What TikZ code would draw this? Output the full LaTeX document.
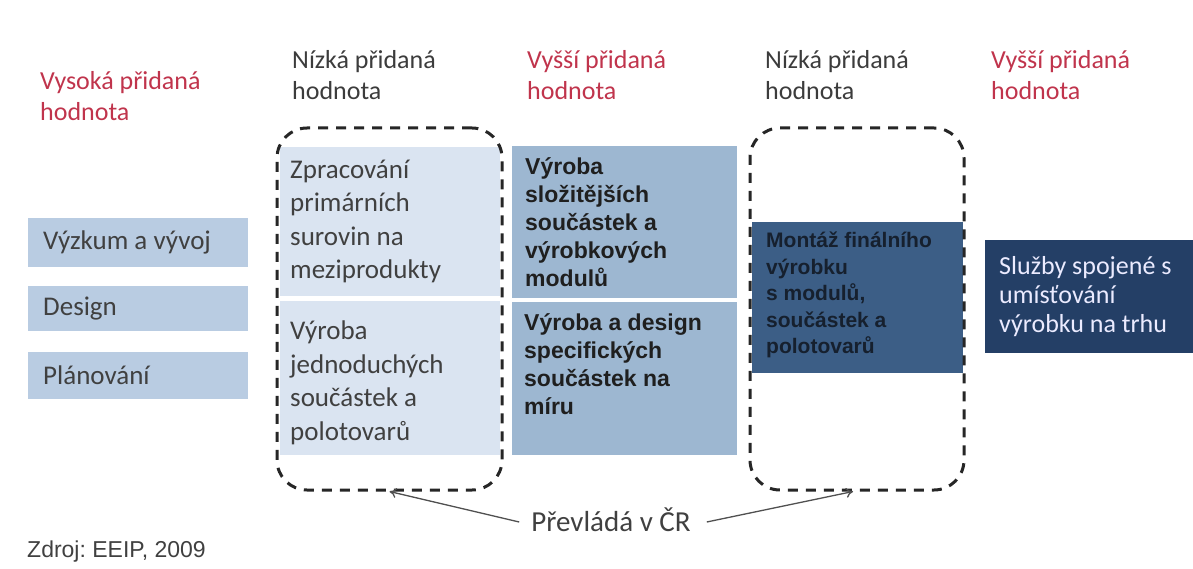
\documentclass[tikz,border=0pt]{standalone}
\usepackage{fontspec}
\newfontfamily\calfont{Carlito}
\newfontfamily\arifont{Liberation Sans}
\usetikzlibrary{arrows.meta}
\frenchspacing
\definecolor{hdrred}{RGB}{192,52,76}
\definecolor{hdrgray}{RGB}{60,60,60}
\definecolor{leftblue}{RGB}{185,204,226}
\definecolor{lightblue}{RGB}{218,228,241}
\definecolor{midblue}{RGB}{157,183,209}
\definecolor{darkblue}{RGB}{60,94,134}
\definecolor{navy}{RGB}{36,63,102}
\definecolor{txtgray}{RGB}{64,64,64}
\definecolor{arrgray}{RGB}{80,80,80}
\definecolor{montxt}{RGB}{22,32,46}
\tikzset{
  hdr/.style={anchor=north west, inner sep=0pt, align=left, font=\calfont\fontsize{26}{31}\selectfont},
  hdrr/.style={hdr, text=hdrred},
  hdrk/.style={hdr, text=hdrgray},
  boxn/.style={anchor=north west, inner sep=0pt, draw=none},
  ctxt/.style={anchor=west, inner sep=0pt, align=left, text=txtgray, font=\calfont\fontsize{27}{33.5}\selectfont},
  btxt/.style={anchor=west, inner sep=0pt, align=left, text=black!88, font=\arifont\bfseries\fontsize{23}{28}\selectfont},
  dashbox/.style={draw=black!85, line width=3pt, dash pattern=on 10pt off 8pt, rounded corners=30pt, inner sep=0pt, minimum width=#1},
  arr/.style={draw=arrgray, line width=1.3pt, -{To[length=7pt,width=10pt]}}
}
\begin{document}
\begin{tikzpicture}[x=1pt,y=-1pt]
\useasboundingbox (0,0) rectangle (1193,569);
% headers
\node[hdrr] (h1) at (40,71) {Vysoká přidaná\\hodnota};
\node[hdrk] (h2) at (292,50) {Nízká přidaná\\hodnota};
\node[hdrr] (h3) at (527,50) {Vyšší přidaná\\hodnota};
\node[hdrk] (h4) at (765,50) {Nízká přidaná\\hodnota};
\node[hdrr] (h5) at (991,50) {Vyšší přidaná\\hodnota};
% left boxes
\node[boxn, fill=leftblue, minimum width=220pt, minimum height=49pt] (l1) at (28,218) {};
\node[boxn, fill=leftblue, minimum width=220pt, minimum height=45pt] (l2) at (28,286) {};
\node[boxn, fill=leftblue, minimum width=220pt, minimum height=47pt] (l3) at (28,352) {};
\node[ctxt] (l1t) at ([xshift=15pt]l1.west) {Výzkum a vývoj};
\node[ctxt] (l2t) at ([xshift=15pt]l2.west) {Design};
\node[ctxt] (l3t) at ([xshift=15pt]l3.west) {Plánování};
% light boxes
\node[boxn, fill=lightblue, minimum width=220pt, minimum height=149pt] (a1) at (280,147) {};
\node[boxn, fill=lightblue, minimum width=220pt, minimum height=154pt] (a2) at (280,301) {};
\node[ctxt] (a1t) at ([xshift=10pt]a1.west) {Zpracování\\primárních\\surovin na\\meziprodukty};
\node[ctxt] (a2t) at ([xshift=10pt,yshift=-4.5pt]a2.west) {Výroba\\jednoduchých\\součástek a\\polotovarů};
% medium boxes
\node[boxn, fill=midblue, minimum width=225pt, minimum height=152pt] (m1) at (512,146) {};
\node[boxn, fill=midblue, minimum width=225pt, minimum height=153pt] (m2) at (512,302) {};
\node[btxt] (m1t) at ([xshift=13pt]m1.west) {Výroba\\složitějších\\součástek a\\výrobkových\\modulů};
\node[btxt] (m2t) at (524,364.5) {Výroba a design\\specifických\\součástek na\\míru};
% dark box
\node[boxn, fill=darkblue, minimum width=211pt, minimum height=151pt] (d) at (752,222) {};
\node[btxt, text=montxt, font=\arifont\bfseries\fontsize{21}{26.5}\selectfont] (dt) at (766,295) {Montáž finálního\\výrobku\\s modulů,\\součástek a\\polotovarů};
% navy box
\node[boxn, fill=navy, minimum width=208pt, minimum height=113pt] (s) at (985,240) {};
\node[ctxt, text=white!92!blue, font=\calfont\fontsize{26}{29}\selectfont] (st) at ([xshift=14pt]s.west) {Služby spojené s\\umísťování\\výrobku na trhu};
% dashed groups
\node[dashbox=225pt, minimum height=362pt] (g1) at (389.5,309) {};
\node[dashbox=214pt, minimum height=362pt] (g2) at (857,309) {};
% annotation
\node[inner sep=0pt, text=txtgray, font=\calfont\fontsize{29}{33}\selectfont] (p) at (611,520) {Převládá v ČR};
\draw[arr] ([xshift=-12pt,yshift=-2pt]p.west) -- (g1.south);
\draw[arr] ([xshift=16pt,yshift=-2pt]p.east) -- ([xshift=-4pt]g2.south);
% source
\node[anchor=west, inner sep=0pt, text=txtgray, font=\arifont\fontsize{23}{27}\selectfont] (z) at (27,552) {Zdroj: EEIP, 2009};
\end{tikzpicture}
\end{document}
